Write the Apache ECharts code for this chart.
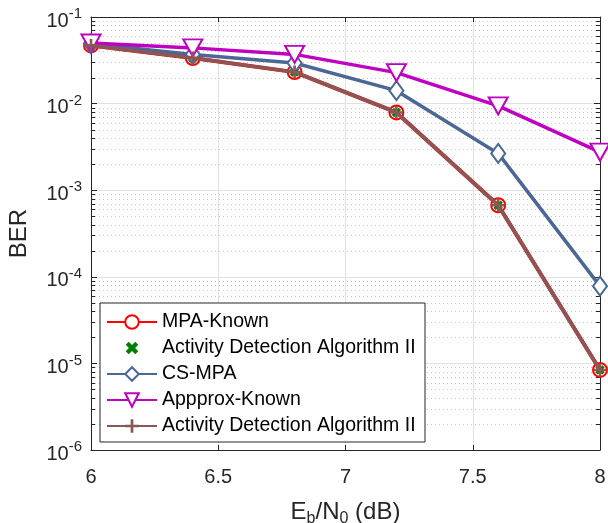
<!DOCTYPE html>
<html><head><meta charset="utf-8">
<script src="https://cdn.jsdelivr.net/npm/echarts@6/dist/echarts.min.js"></script>
<style>html,body{margin:0;padding:0;background:#fff}#c{width:608px;height:523px}</style>
</head><body><div id="c"></div>
<script>
const ebn0 = [6, 6.4, 6.8, 7.2, 7.6, 8];
const mpaKnown = [0.047, 0.0336, 0.0231, 0.0079, 0.00067, 8.4e-6];
const adaII_x = [0.047, 0.0336, 0.0231, 0.0079, 0.00067, 8.4e-6];
const csMpa = [0.049, 0.037, 0.0294, 0.0141, 0.00266, 7.8e-5];
const approxKnown = [0.050, 0.044, 0.037, 0.0228, 0.0094, 0.00275];
const adaII_plus = [0.047, 0.0336, 0.0231, 0.0079, 0.00067, 8.4e-6];
const xTicks = ['6', '6.5', '7', '7.5', '8'];
const names = ['MPA-Known', 'Activity Detection Algorithm II', 'CS-MPA', 'Appprox-Known', 'Activity Detection Algorithm II '];

// minor log grid positions
const minorVals = [];
for (let e = -6; e < -1; e++) for (let m = 2; m <= 9; m++) minorVals.push([6, m * Math.pow(10, e)]);

const pair = arr => arr.map((v, i) => [ebn0[i], v]);
const FONT = 'Liberation Sans, Arial, Helvetica, sans-serif';
const AX = '#262626';
const plusPath = 'path://M4,0H6V4H10V6H6V10H4V6H0V4H4Z';
const xPath = 'path://M3.4,0H6.6V3.4H10V6.6H6.6V10H3.4V6.6H0V3.4H3.4Z';

const chart = echarts.init(document.getElementById('c'), null, {renderer: 'canvas'});
chart.setOption({
  backgroundColor: '#fff',
  animation: false,
  grid: {left: 91, right: 8, top: 17, bottom: 73, containLabel: false, outerBoundsMode: 'none'},
  legend: {
    orient: 'vertical', left: 100, top: 303,
    data: names,
    itemWidth: 50, itemHeight: 17, itemGap: 6,
    padding: [9, 4, 6, 6],
    backgroundColor: '#fff', borderColor: AX, borderWidth: 1,
    textStyle: {fontFamily: FONT, fontSize: 19.5, lineHeight: 20, color: '#000'},
    z: 10
  },
  xAxis: [{
    type: 'value', min: 6, max: 8, interval: 0.5, position: 'bottom',
    axisLine: {lineStyle: {color: AX, width: 1}},
    axisTick: {inside: true, length: 5, lineStyle: {color: AX}},
    axisLabel: {fontFamily: FONT, fontSize: 20, color: '#262626', margin: 17,
      formatter: (v) => { const i = Math.round((v - 6) / 0.5); return xTicks[i]; }},
    splitLine: {show: true, lineStyle: {color: '#e1e1e1', width: 1}},
    name: '{n|E}{s|b}{n|/N}{s|0}{n| (dB)}', nameLocation: 'middle', nameGap: 47,
    nameTextStyle: {rich: {
      n: {fontFamily: FONT, fontSize: 24, color: '#262626'},
      s: {fontFamily: FONT, fontSize: 16, color: '#262626', padding: [14, 0, 0, 0]}
    }}
  }, {
    type: 'value', min: 6, max: 8, interval: 0.5, position: 'top',
    axisLine: {lineStyle: {color: AX, width: 1}},
    axisTick: {inside: true, length: 5, lineStyle: {color: AX}},
    axisLabel: {show: false}, splitLine: {show: false}
  }],
  yAxis: [{
    type: 'log', logBase: 10, min: 1e-6, max: 1e-1, interval: 1, position: 'left',
    axisLine: {show: true, lineStyle: {color: AX, width: 1}},
    axisTick: {show: true, inside: true, length: 6, lineStyle: {color: AX}},
    axisLabel: {margin: 9, formatter: (v) => '{b|10}{s|' + Math.round(Math.log10(v)) + '}',
      rich: {
        b: {fontFamily: FONT, fontSize: 20, color: '#262626', padding: [8, 0, 0, 0]},
        s: {fontFamily: FONT, fontSize: 15, color: '#262626', padding: [0, 0, 6, 0]}
      }},
    splitLine: {show: true, lineStyle: {color: '#e1e1e1', width: 1}},
    name: 'BER', nameLocation: 'middle', nameGap: 60,
    nameTextStyle: {fontFamily: FONT, fontSize: 24, color: '#262626'}
  }, {
    type: 'log', logBase: 10, min: 1e-6, max: 1e-1, interval: 1, position: 'right',
    axisLine: {show: true, lineStyle: {color: AX, width: 1}},
    axisTick: {show: true, inside: true, length: 6, lineStyle: {color: AX}},
    axisLabel: {show: false}, splitLine: {show: false}
  }],
  series: [
    {
      type: 'custom', silent: true, z: 1, xAxisIndex: 0, yAxisIndex: 0,
      data: minorVals, clip: false,
      renderItem: function (params, api) {
        const cs = params.coordSys;
        const y = Math.round(api.coord([6, api.value(1)])[1]) + 0.5;
        const x0 = cs.x, x1 = cs.x + cs.width;
        return {type: 'group', children: [
          {type: 'line', shape: {x1: x0, y1: y, x2: x1, y2: y}, style: {stroke: '#c4c4c4', lineWidth: 1, lineDash: [1, 3]}},
          {type: 'line', shape: {x1: x0, y1: y, x2: x0 + 4, y2: y}, style: {stroke: AX, lineWidth: 1}},
          {type: 'line', shape: {x1: x1 - 4, y1: y, x2: x1, y2: y}, style: {stroke: AX, lineWidth: 1}}
        ]};
      }
    },
    {
      name: names[0], type: 'line', data: pair(mpaKnown), z: 3,
      symbol: 'emptyCircle', symbolSize: 14,
      lineStyle: {color: '#ff0000', width: 4},
      itemStyle: {color: '#ff0000', borderWidth: 2.5}
    },
    {
      name: names[1], type: 'line', data: pair(adaII_x), z: 4,
      symbol: xPath, symbolRotate: 45, symbolSize: 10,
      lineStyle: {color: '#008000', width: 0, opacity: 0},
      itemStyle: {color: '#008000'}
    },
    {
      name: names[2], type: 'line', data: pair(csMpa), z: 5,
      symbol: 'emptyDiamond', symbolSize: [14, 19],
      lineStyle: {color: '#4a6796', width: 3.5},
      itemStyle: {color: '#4a6796', borderWidth: 2.5}
    },
    {
      name: names[3], type: 'line', data: pair(approxKnown), z: 6,
      symbol: 'emptyTriangle', symbolRotate: 180, symbolSize: [19, 17],
      lineStyle: {color: '#c000c0', width: 3.5},
      itemStyle: {color: '#c000c0', borderWidth: 2.5}
    },
    {
      name: names[4], type: 'line', data: pair(adaII_plus), z: 7,
      symbol: plusPath, symbolSize: 13,
      lineStyle: {color: '#8a5656', width: 3.5},
      itemStyle: {color: '#8a5656'}
    }
  ]
});
</script></body></html>
